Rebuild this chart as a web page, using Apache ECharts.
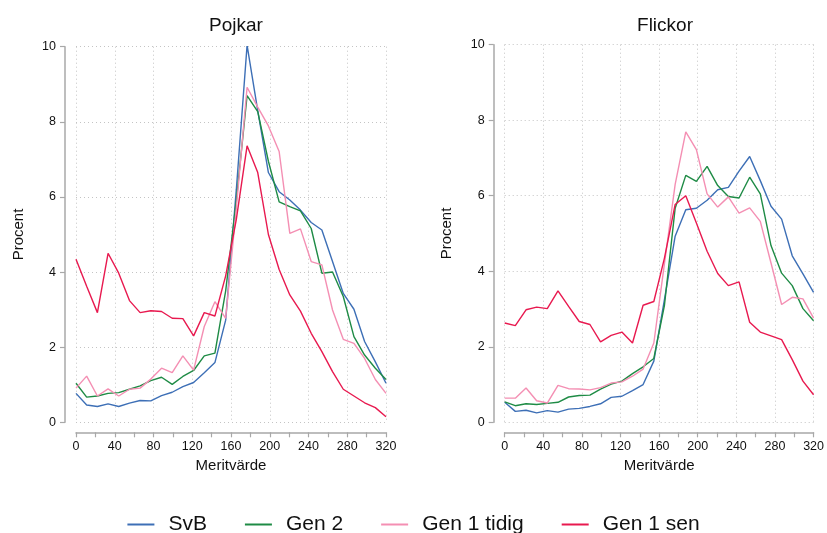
<!DOCTYPE html>
<html><head><meta charset="utf-8">
<script src="https://cdn.jsdelivr.net/npm/echarts@6/dist/echarts.min.js"></script>
<style>html,body{margin:0;padding:0;background:#fff}#c{width:827px;height:533px}</style>
</head><body><div id="c"></div>
<script>
// Meritvärde positions (x) of each observation
const meritX = [0, 11.0, 22.1, 33.1, 44.1, 55.2, 66.2, 77.2, 88.3, 99.3, 110.3, 121.4, 132.4, 143.4, 154.5,
  165.5, 176.6, 187.6, 198.6, 209.7, 220.7, 231.7, 242.8, 253.8, 264.8, 275.9, 286.9, 297.9, 309.0, 320];
const seriesNames = ['SvB', 'Gen 2', 'Gen 1 tidig', 'Gen 1 sen'];
const panelTitles = ['Pojkar', 'Flickor'];
const xTicks = [0, 40, 80, 120, 160, 200, 240, 280, 320];
const yTicks = [0, 2, 4, 6, 8, 10];

// Pojkar
const pojkarSvB   = [0.77,0.46,0.42,0.49,0.42,0.51,0.58,0.57,0.71,0.80,0.95,1.06,1.32,1.59,2.72,6.2,10.04,8.3,6.65,6.14,5.92,5.65,5.32,5.12,4.28,3.43,3.01,2.15,1.61,1.04];
const pojkarGen2  = [1.04,0.67,0.70,0.77,0.79,0.88,0.97,1.11,1.20,1.01,1.22,1.38,1.77,1.84,3.5,5.9,8.70,8.27,6.95,5.87,5.74,5.63,5.16,3.97,4.0,3.35,2.28,1.79,1.44,1.14];
const pojkarTidig = [0.91,1.23,0.70,0.89,0.70,0.88,0.91,1.15,1.44,1.32,1.77,1.39,2.55,3.21,2.77,5.7,8.92,8.39,7.89,7.21,5.03,5.15,4.28,4.19,2.99,2.21,2.10,1.70,1.14,0.77];
const pojkarSen   = [4.34,3.62,2.92,4.50,3.97,3.24,2.92,2.97,2.95,2.77,2.76,2.30,2.92,2.83,3.90,5.4,7.36,6.65,5.00,4.07,3.39,2.96,2.37,1.88,1.35,0.88,0.70,0.52,0.39,0.15];

// Flickor
const flickorSvB   = [0.53,0.29,0.32,0.25,0.31,0.27,0.35,0.37,0.42,0.49,0.66,0.69,0.84,1.00,1.62,3.25,4.93,5.63,5.67,5.88,6.16,6.22,6.65,7.04,6.40,5.72,5.38,4.41,3.93,3.44];
const flickorGen2  = [0.54,0.44,0.49,0.47,0.50,0.53,0.67,0.71,0.72,0.88,1.01,1.09,1.29,1.47,1.69,3.10,5.67,6.54,6.38,6.78,6.27,5.98,5.94,6.49,6.05,4.68,3.95,3.62,3.01,2.69];
const flickorTidig = [0.64,0.64,0.91,0.57,0.51,0.98,0.89,0.88,0.86,0.92,1.04,1.07,1.22,1.41,2.10,4.2,6.30,7.69,7.22,6.05,5.70,5.97,5.54,5.68,5.32,4.22,3.12,3.31,3.27,2.76];
const flickorSen   = [2.63,2.56,2.98,3.05,3.01,3.48,3.07,2.67,2.59,2.13,2.30,2.39,2.10,3.10,3.20,4.35,5.77,6.00,5.28,4.53,3.94,3.62,3.72,2.65,2.39,2.29,2.19,1.66,1.09,0.73];

const colors = ['#3d6fb6', '#1e8b45', '#f48fb3', '#e8194f'];
const FONT = '"Liberation Sans", Arial, sans-serif';
const AX = '#a8a8a8';
const TXT = '#111';

const pairs = arr => meritX.map((x, i) => [x, arr[i]]);

function xAx(gi) {
  return {
    type: 'value', gridIndex: gi, min: xTicks[0], max: xTicks[xTicks.length - 1], interval: 40,
    offset: 10, name: 'Meritvärde', nameLocation: 'middle', nameGap: 26,
    nameTextStyle: { fontSize: 15, color: TXT, fontFamily: FONT },
    axisLine: { show: true, onZero: false, lineStyle: { color: AX, width: 1.5 } },
    axisTick: { show: true, length: 5, lineStyle: { color: AX, width: 1.2 } },
    minorTick: { show: true, splitNumber: 2, length: 5, lineStyle: { color: AX, width: 1.2 } },
    axisLabel: { fontSize: 12.5, color: TXT, margin: 8, fontFamily: FONT },
    splitLine: { show: true, lineStyle: { color: '#c4c4c4', type: [1, 3], width: 1 } }
  };
}
function yAx(gi) {
  return {
    type: 'value', gridIndex: gi, min: yTicks[0], max: yTicks[yTicks.length - 1], interval: 2,
    offset: 11, name: 'Procent', nameLocation: 'middle', nameGap: 39,
    nameTextStyle: { fontSize: 15, color: TXT, fontFamily: FONT },
    axisLine: { show: true, onZero: false, lineStyle: { color: AX, width: 1.5 } },
    axisTick: { show: true, length: 5, lineStyle: { color: AX, width: 1.2 } },
    axisLabel: { fontSize: 12.5, color: TXT, margin: 9, fontFamily: FONT },
    splitLine: { show: true, lineStyle: { color: '#c4c4c4', type: [1, 3], width: 1 } }
  };
}

const panels = [
  [pojkarSvB, pojkarGen2, pojkarTidig, pojkarSen],
  [flickorSvB, flickorGen2, flickorTidig, flickorSen]
];
const series = [];
panels.forEach((p, gi) => {
  p.forEach((arr, si) => {
    series.push({
      type: 'line', name: seriesNames[si], xAxisIndex: gi, yAxisIndex: gi,
      symbol: 'none', data: pairs(arr), color: colors[si],
      lineStyle: { width: 1.4, color: colors[si] }, z: 2 + si
    });
  });
});

const chart = echarts.init(document.getElementById('c'), null, { renderer: 'canvas' });
chart.setOption({
  animation: false,
  backgroundColor: '#fff',
  textStyle: { fontFamily: FONT },
  title: [
    { text: panelTitles[0], left: 231, top: 11, textAlign: 'center', textStyle: { fontSize: 19, fontWeight: 'normal', color: TXT, fontFamily: FONT } },
    { text: panelTitles[1], left: 660, top: 11, textAlign: 'center', textStyle: { fontSize: 19, fontWeight: 'normal', color: TXT, fontFamily: FONT } }
  ],
  grid: [
    { left: 76, width: 310, top: 46.7, height: 375.6 },
    { left: 504.7, width: 310.3, top: 44.7, height: 377.6 }
  ],
  xAxis: [xAx(0), xAx(1)],
  yAxis: [yAx(0), yAx(1)],
  legend: {
    data: seriesNames, left: 'center', top: 509, icon: 'rect', itemWidth: 27, itemHeight: 2, itemGap: 38,
    textStyle: { fontSize: 21, color: TXT, fontFamily: FONT, padding: [0, 0, 0, 9] }
  },
  series: series
});
</script></body></html>
